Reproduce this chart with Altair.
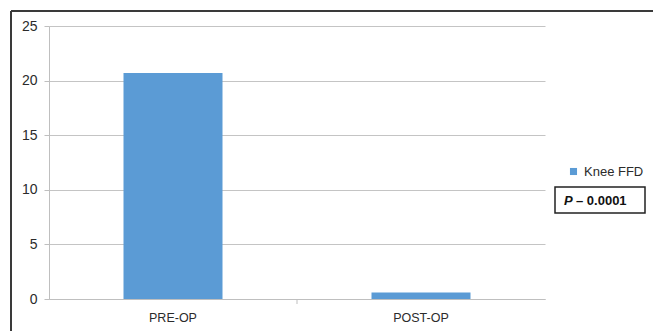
import altair as alt
import pandas as pd

categories = ["PRE-OP", "POST-OP"]
values = [20.7, 0.6]
series = ["Knee FFD", "Knee FFD"]
y_ticks = [0, 5, 10, 15, 20, 25]
p_label_italic = "P"
p_label_rest = "– 0.0001"

df = pd.DataFrame({"phase": categories, "value": values, "series": series})
one = pd.DataFrame({"k": [0]})

FONT = "Liberation Sans"
BLUE = "#5b9bd5"
TXT = "#2b2b2b"

bars = alt.Chart(df).mark_bar(size=99, color=BLUE).encode(
    x=alt.X("phase:N", sort=categories, title=None,
            scale=alt.Scale(paddingInner=0, paddingOuter=0),
            axis=alt.Axis(labelAngle=0, ticks=False, grid=False, domainColor="#bfbfbf",
                          labelPadding=12, labelFontSize=12.5, labelColor=TXT,
                          labelFont=FONT)),
    y=alt.Y("value:Q", title=None,
            scale=alt.Scale(domain=[0, 25], nice=False),
            axis=alt.Axis(values=y_ticks, grid=True, gridColor="#c4c4c4",
                          domainColor="#bfbfbf", tickColor="#bfbfbf", tickSize=5,
                          labelPadding=7, labelFontSize=14, labelColor=TXT,
                          labelFont=FONT)),
    color=alt.Color("series:N", title=None,
                    scale=alt.Scale(domain=["Knee FFD"], range=[BLUE]),
                    legend=alt.Legend(orient="none", legendX=518, legendY=139,
                                      symbolType="square", symbolSize=50,
                                      symbolStrokeWidth=0, padding=0,
                                      labelFontSize=13, labelFont=FONT,
                                      labelColor=TXT, labelOffset=4)),
)

mid_tick = alt.Chart(one).mark_rule(color="#bfbfbf", strokeWidth=1).encode(
    x=alt.value(248), y=alt.value(273), y2=alt.value(278)
)

frame_left = alt.Chart(one).mark_rule(color="#3a3a3a", strokeWidth=2, clip=False).encode(
    x=alt.value(-38), y=alt.value(-15), y2=alt.value(400)
)
frame_top = alt.Chart(one).mark_rule(color="#3a3a3a", strokeWidth=2, clip=False).encode(
    x=alt.value(-38), x2=alt.value(700), y=alt.value(-15)
)

pbox = alt.Chart(one).mark_rect(fill="white", stroke="#222222", strokeWidth=1.5).encode(
    x=alt.value(506), x2=alt.value(596), y=alt.value(161), y2=alt.value(187)
)

p_italic = alt.Chart(one).mark_text(text=p_label_italic, fontStyle="italic",
                                    fontWeight="bold", fontSize=13, font=FONT,
                                    align="left", baseline="middle",
                                    color="#111111").encode(
    x=alt.value(515), y=alt.value(174.5)
)
p_rest = alt.Chart(one).mark_text(text=p_label_rest, fontWeight="bold",
                                  fontSize=13, font=FONT, align="left",
                                  baseline="middle", color="#111111").encode(
    x=alt.value(527), y=alt.value(174.5)
)

chart = alt.layer(frame_left, frame_top, bars, mid_tick, pbox, p_italic, p_rest).properties(
    width=496, height=273,
    autosize=alt.AutoSizeParams(type="none"),
    padding={"left": 49, "top": 26, "right": 108, "bottom": 32},
    background="white",
).configure_view(stroke="transparent", strokeWidth=0)

chart.save("out.html", embed_options={"renderer": "svg", "actions": False})
